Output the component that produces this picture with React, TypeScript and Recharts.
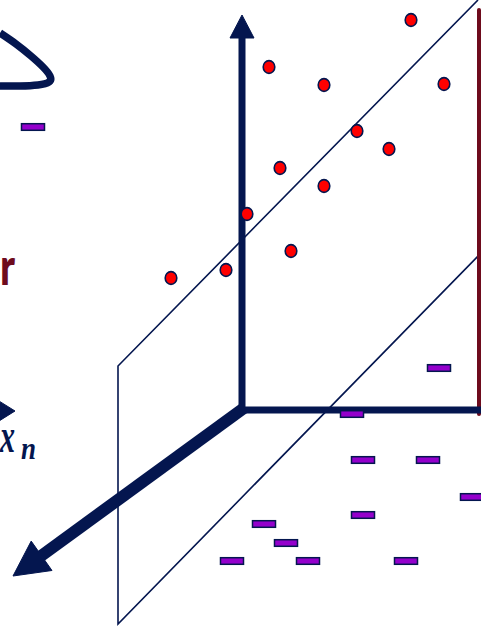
import React from 'react';
import { ComposedChart, XAxis, YAxis, Line, Scatter } from 'recharts';

// Palette
const NAVY = '#04164f';
const MAROON = '#6e0b1d';
const DOT_RED = '#ff0000';
const DASH_PURPLE = '#9400cc';

// Canvas coordinate space (x to the right, y downward)
const X_DOMAIN: [number, number] = [0, 481];
const Y_DOMAIN: [number, number] = [0, 628];

// Class "+" samples (red dots)
const positivePoints = [
  { x: 411, y: 20 },
  { x: 269, y: 67 },
  { x: 324, y: 85 },
  { x: 444, y: 84 },
  { x: 357, y: 131 },
  { x: 389, y: 149 },
  { x: 280, y: 168 },
  { x: 324, y: 186 },
  { x: 247, y: 214 },
  { x: 291, y: 251 },
  { x: 226, y: 270 },
  { x: 171, y: 278 },
];

// Class "−" samples (purple dashes)
const negativePoints = [
  { x: 33, y: 127 },
  { x: 439, y: 368 },
  { x: 352, y: 414 },
  { x: 363, y: 460 },
  { x: 428, y: 460 },
  { x: 472, y: 497 },
  { x: 363, y: 515 },
  { x: 264, y: 524 },
  { x: 286, y: 543 },
  { x: 232, y: 561 },
  { x: 308, y: 561 },
  { x: 406, y: 561 },
];

// Separating plane outline
const planeOutline = [
  { x: 478, y: 0 },
  { x: 118, y: 366 },
  { x: 118, y: 624 },
  { x: 481, y: 253 },
];

// Coordinate axes (shafts)
const verticalAxis = [
  { x: 242, y: 412 },
  { x: 242, y: 37 },
];
const horizontalAxis = [
  { x: 239, y: 410 },
  { x: 481, y: 410 },
];
const depthAxis = [
  { x: 244, y: 408 },
  { x: 41, y: 556 },
];

// Arrow tips
const verticalTip = [{ x: 242, y: 15 }];
const depthTip = [{ x: 13, y: 576 }];
const sideTip = [{ x: 15, y: 411 }];

// Margin bar on the right
const marginBar = [
  { x: 479, y: 10 },
  { x: 479, y: 414 },
];

// Curved stroke at the top-left
const cornerCurve = [
  { x: 0, y: 33 },
  { x: 16, y: 44 },
  { x: 31, y: 56 },
  { x: 43, y: 67 },
  { x: 50, y: 76 },
  { x: 49, y: 82 },
  { x: 38, y: 85 },
  { x: 20, y: 86 },
  { x: 0, y: 86 },
];

// Text labels
const rLabel = [{ x: 0, y: 285, text: 'r', width: 15 }];
const xnLabel = [{ x: 0, y: 452, base: 'x', sub: 'n', baseWidth: 15, subWidth: 15 }];

const RedDot = (props: any) => {
  const { cx, cy } = props;
  return <ellipse cx={cx} cy={cy} rx={5.8} ry={6.4} fill={DOT_RED} stroke={NAVY} strokeWidth={1.6} />;
};

const PurpleDash = (props: any) => {
  const { cx, cy } = props;
  return (
    <rect x={cx - 11.5} y={cy - 3.3} width={23} height={6.6} fill={DASH_PURPLE} stroke={NAVY} strokeWidth={1.5} />
  );
};

const makeArrowHead = (angleDeg: number, length: number, halfWidth: number) => (props: any) => {
  const { cx, cy } = props;
  const a = (angleDeg * Math.PI) / 180;
  const bx = cx - length * Math.cos(a);
  const by = cy - length * Math.sin(a);
  const px = -Math.sin(a) * halfWidth;
  const py = Math.cos(a) * halfWidth;
  const pts = `${cx},${cy} ${bx + px},${by + py} ${bx - px},${by - py}`;
  return <polygon points={pts} fill={NAVY} stroke={NAVY} strokeWidth={1} strokeLinejoin="miter" />;
};

const RText = (props: any) => {
  const { cx, cy, payload } = props;
  return (
    <text
      x={cx}
      y={cy}
      textAnchor="start"
      textLength={payload.width}
      lengthAdjust="spacingAndGlyphs"
      style={{ fontFamily: 'Lato, "Open Sans", sans-serif', fontWeight: 900, fontSize: 52, fill: MAROON }}
    >
      {payload.text}
    </text>
  );
};

// Italic variable with a subscript, drawn as one text element
const SubscriptText = (props: any) => {
  const { cx, cy, payload } = props;
  return (
    <text
      x={cx}
      y={cy}
      textAnchor="start"
      style={{
        fontFamily: '"Liberation Serif", serif',
        fontStyle: 'italic',
        fontWeight: 700,
        fill: NAVY,
      }}
    >
      <tspan x={cx} y={cy} fontSize={48} textLength={payload.baseWidth} lengthAdjust="spacingAndGlyphs">
        {payload.base}
      </tspan>
      <tspan x={cx + 21} y={cy + 7} fontSize={32} textLength={payload.subWidth} lengthAdjust="spacingAndGlyphs">
        {payload.sub}
      </tspan>
    </text>
  );
};

const VerticalHead = makeArrowHead(-90, 23, 12);
const DepthHead = makeArrowHead((Math.atan2(20.5, -29) * 180) / Math.PI, 35, 18);
const SideHead = makeArrowHead(0, 16, 10);

const lineCommon = {
  dataKey: 'y',
  dot: false,
  activeDot: false,
  isAnimationActive: false,
  legendType: 'none' as const,
};

export default function App() {
  return (
    <div style={{ position: 'absolute', left: 0, top: 0, width: 481, height: 628, background: '#fff' }}>
      <ComposedChart width={481} height={628} margin={{ top: 0, right: 0, bottom: 0, left: 0 }}>
        <XAxis type="number" dataKey="x" domain={X_DOMAIN} allowDataOverflow hide />
        <YAxis type="number" dataKey="y" domain={Y_DOMAIN} reversed allowDataOverflow hide />

        <Line {...lineCommon} data={planeOutline} type="linear" stroke={NAVY} strokeWidth={1.6} />
        <Line {...lineCommon} data={cornerCurve} type="natural" stroke={NAVY} strokeWidth={7.5} />
        <Line {...lineCommon} data={marginBar} type="linear" stroke={MAROON} strokeWidth={4} strokeLinecap="round" />
        <Line {...lineCommon} data={verticalAxis} type="linear" stroke={NAVY} strokeWidth={7} />
        <Line {...lineCommon} data={horizontalAxis} type="linear" stroke={NAVY} strokeWidth={7} />
        <Line {...lineCommon} data={depthAxis} type="linear" stroke={NAVY} strokeWidth={12} />

        <Scatter data={verticalTip} shape={VerticalHead} isAnimationActive={false} legendType="none" />
        <Scatter data={depthTip} shape={DepthHead} isAnimationActive={false} legendType="none" />
        <Scatter data={sideTip} shape={SideHead} isAnimationActive={false} legendType="none" />

        <Scatter data={positivePoints} shape={RedDot} isAnimationActive={false} legendType="none" />
        <Scatter data={negativePoints} shape={PurpleDash} isAnimationActive={false} legendType="none" />

        <Scatter data={rLabel} shape={RText} isAnimationActive={false} legendType="none" />
        <Scatter data={xnLabel} shape={SubscriptText} isAnimationActive={false} legendType="none" />
      </ComposedChart>
    </div>
  );
}
